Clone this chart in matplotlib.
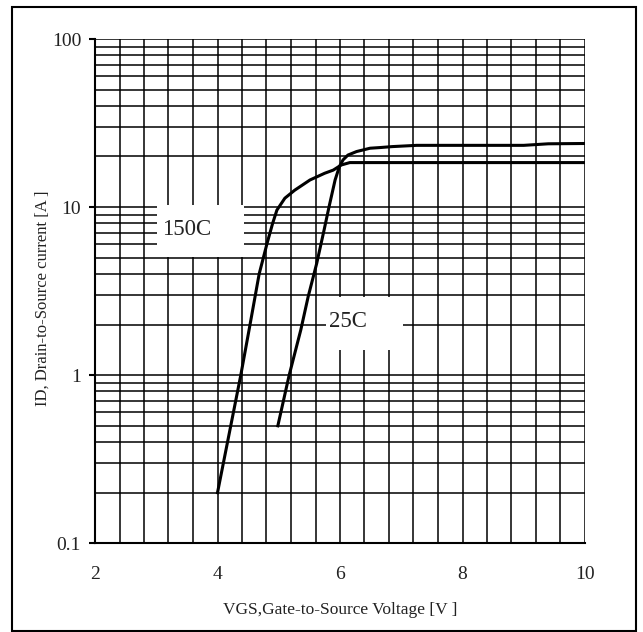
import matplotlib
matplotlib.use("Agg")
import matplotlib.pyplot as plt
import numpy as np
from matplotlib.patches import Rectangle
from matplotlib.ticker import FixedLocator, LogLocator, NullFormatter, FixedFormatter

# ---- data ----
vgs_150 = [4.0, 4.38, 4.52, 4.68, 4.81, 4.90, 4.97, 5.10, 5.26, 5.51, 5.75, 5.89, 6.02, 6.16, 7.0, 8.0, 9.0, 10.0]
id_150 = [0.2, 1.0, 1.9, 4.0, 6.1, 8.0, 9.6, 11.3, 12.6, 14.5, 15.9, 16.6, 17.8, 18.4, 18.4, 18.4, 18.4, 18.4]

vgs_25 = [4.985, 5.17, 5.36, 5.48, 5.62, 5.74, 5.82, 5.92, 5.99, 6.05, 6.13, 6.27, 6.49, 6.65, 6.85, 7.25, 9.0, 9.4, 10.0]
id_25 = [0.5, 1.0, 1.86, 2.93, 4.63, 7.3, 10.0, 14.5, 17.4, 19.1, 20.4, 21.4, 22.4, 22.6, 22.9, 23.3, 23.3, 23.8, 23.9]

x_ticks = [2, 4, 6, 8, 10]
x_tick_labels = ["2", "4", "6", "8", "10"]
y_ticks = [0.1, 1, 10, 100]
y_tick_labels = ["0.1", "1", "10", "100"]

label_150 = "150C"
label_25 = "25C"
xlabel = "VGS,Gate-to-Source Voltage [V ]"
ylabel = "ID, Drain-to-Source current [A ]"

plt.rcParams['font.family'] = ['Liberation Serif', 'DejaVu Serif']

W, H = 643, 632
fig = plt.figure(figsize=(W / 100, H / 100), dpi=100)

# outer frame
fig.patches.append(Rectangle((12 / W, 1 - 631 / H), (636 - 12) / W, (631 - 7) / H,
                             transform=fig.transFigure, fill=False,
                             edgecolor='black', linewidth=1.5, zorder=0))

ax = fig.add_axes([95 / W, 1 - 543.3 / H, 490 / W, (543.3 - 39) / H])
ax.set_yscale('log')
ax.set_xlim(2, 10)
ax.set_ylim(0.1, 100)

ax.xaxis.set_major_locator(FixedLocator(x_ticks))
ax.xaxis.set_major_formatter(FixedFormatter(x_tick_labels))
ax.xaxis.set_minor_locator(FixedLocator(list(np.arange(2, 10.01, 0.4))))
ax.yaxis.set_major_locator(FixedLocator(y_ticks))
ax.yaxis.set_major_formatter(FixedFormatter(y_tick_labels))
ax.yaxis.set_minor_locator(LogLocator(base=10, subs=range(2, 10)))
ax.yaxis.set_minor_formatter(NullFormatter())

ax.grid(True, which='both', color='black', linewidth=1.1)
ax.set_axisbelow(True)

for s in ['top', 'right']:
    ax.spines[s].set_visible(False)
for s in ['left', 'bottom']:
    ax.spines[s].set_linewidth(1.5)
    ax.spines[s].set_zorder(4)

ax.tick_params(axis='x', which='both', length=0, pad=16, labelsize=14)
ax.tick_params(axis='y', which='major', length=4, width=1.5, pad=6, labelsize=14)
ax.tick_params(axis='y', which='minor', length=0)
ax.tick_params(axis='both', colors='black', labelcolor='#222222')

# white label boxes
ax.add_patch(Rectangle((3.01, 5.05), 1.42, 10.3 - 5.05, facecolor='white',
                       edgecolor='none', zorder=2))
ax.add_patch(Rectangle((5.77, 1.41), 1.26, 2.93 - 1.41, facecolor='white',
                       edgecolor='none', zorder=2))
ax.text(3.50, 7.4, label_150, ha='center', va='center', fontsize=16.5, color='#222222', zorder=3)
ax.text(6.13, 2.08, label_25, ha='center', va='center', fontsize=16.5, color='#222222', zorder=3)

ax.plot(vgs_150, id_150, color='black', linewidth=2.2, zorder=5, solid_joinstyle='round')
ax.plot(vgs_25, id_25, color='black', linewidth=2.2, zorder=5, solid_joinstyle='round')

ax.set_xlabel(xlabel, fontsize=12.5, color='#222222')
ax.set_ylabel(ylabel, fontsize=12, color='#222222')
ax.xaxis.set_label_coords(0.5, -0.117)
ax.yaxis.set_label_coords(-0.09, 0.485)

fig.savefig("out.png", dpi=100)
